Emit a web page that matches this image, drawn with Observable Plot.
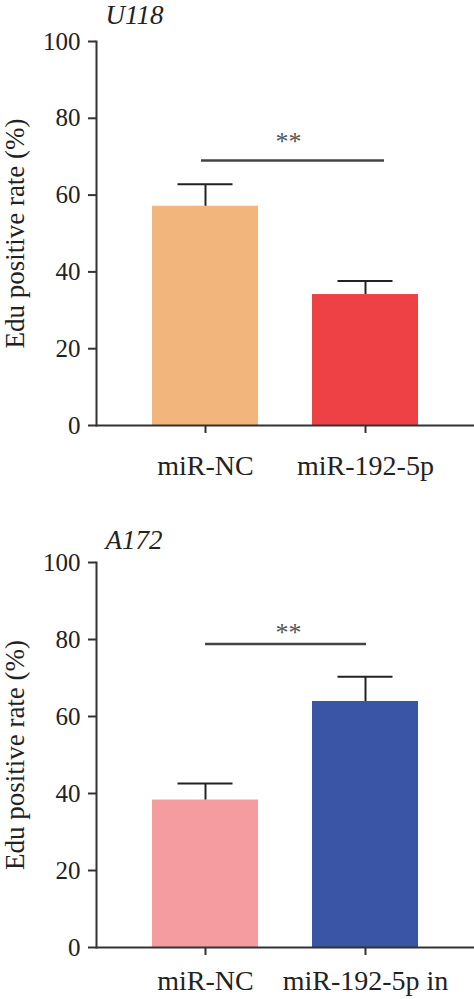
<!DOCTYPE html>
<html>
<head>
<meta charset="utf-8">
<script src="https://cdn.jsdelivr.net/npm/d3@7"></script>
<script src="https://cdn.jsdelivr.net/npm/@observablehq/plot@0.6"></script>
<style>
  html, body { margin: 0; padding: 0; background: #fff; }
  #chart svg { display: block; }
</style>
</head>
<body>
<div id="chart"></div>
<script>
// Panel 1: U118
const title1 = "U118";
const groups1 = ["miR-NC", "miR-192-5p"];
const means1 = [57.1, 34.1];
const errs1 = [5.7, 3.5];
const colors1 = ["#F2B57B", "#EE4146"];
const sig1 = 69;
const stars1 = 73.8;

// Panel 2: A172
const title2 = "A172";
const groups2 = ["miR-NC", "miR-192-5p in"];
const means2 = [38.3, 63.9];
const errs2 = [4.3, 6.4];
const colors2 = ["#F49CA0", "#3A55A5"];
const sig2 = 78.8;
const stars2 = 81.9;

const yTicks = [0, 20, 40, 60, 80, 100];
const yLabel = "Edu positive rate (%)";
const sigLabel = "**";

const FONT = "'Liberation Serif', 'Times New Roman', serif";
const INK = "#222";
const AXIS = "#333";

function panel({title, groups, means, errs, colors, sig, stars, height, marginBottom, titleDy, sigInsetL, sigInsetR, xPad}) {
  const data = groups.map((g, i) => ({g, m: means[i], e: errs[i], c: colors[i]}));
  return Plot.plot({
    width: 474,
    height,
    marginTop: 41,
    marginBottom,
    marginLeft: 96,
    marginRight: 0,
    style: {fontFamily: FONT, background: "#fff", color: INK, overflow: "visible"},
    x: {domain: groups, paddingInner: 0.3375, paddingOuter: 0.35, label: null},
    y: {domain: [0, 100], label: null},
    marks: [
      Plot.barY(data, {x: "g", y: "m", fill: "c"}),
      Plot.ruleX(data, {x: "g", y1: "m", y2: d => d.m + d.e, stroke: "#222", strokeWidth: 2}),
      Plot.tickY(data, {x: "g", y: d => d.m + d.e, stroke: "#222", strokeWidth: 2, insetLeft: 25.5, insetRight: 25.5}),
      Plot.axisY({ticks: yTicks, tickSize: 8, tickPadding: 8, fontSize: 25, label: null, stroke: AXIS, strokeWidth: 2, fill: INK}),
      Plot.axisX({tickSize: 8, tickPadding: xPad, fontSize: 28, label: null, stroke: AXIS, strokeWidth: 2, fill: INK}),
      Plot.ruleY([0], {stroke: AXIS, strokeWidth: 2}),
      Plot.frame({anchor: "left", stroke: AXIS, strokeWidth: 2}),
      Plot.text([yLabel], {frameAnchor: "left", rotate: -90, dx: -81, fontSize: 27, textAnchor: "middle", lineAnchor: "middle", fill: INK}),
      Plot.ruleY([sig], {y: d => d, x1: () => groups[0], x2: () => groups[1], stroke: "#444", strokeWidth: 2.5, insetLeft: sigInsetL, insetRight: sigInsetR}),
      Plot.text([sigLabel], {x: () => groups[0], y: () => stars, dx: 83, fontSize: 26, fill: "#555", lineAnchor: "middle"}),
      Plot.text([title], {frameAnchor: "top-left", dx: 9, dy: titleDy, fontSize: 27, fontStyle: "italic", textAnchor: "start", lineAnchor: "middle", fill: INK})
    ]
  });
}

const chart = document.getElementById("chart");
chart.append(panel({title: title1, groups: groups1, means: means1, errs: errs1, colors: colors1, sig: sig1, stars: stars1,
  height: 521, marginBottom: 96, titleDy: -26.6, sigInsetL: 49, sigInsetR: 34, xPad: 22}));
chart.append(panel({title: title2, groups: groups2, means: means2, errs: errs2, colors: colors2, sig: sig2, stars: stars2,
  height: 478, marginBottom: 52, titleDy: -22.6, sigInsetL: 53, sigInsetR: 52, xPad: 15}));
</script>
</body>
</html>
